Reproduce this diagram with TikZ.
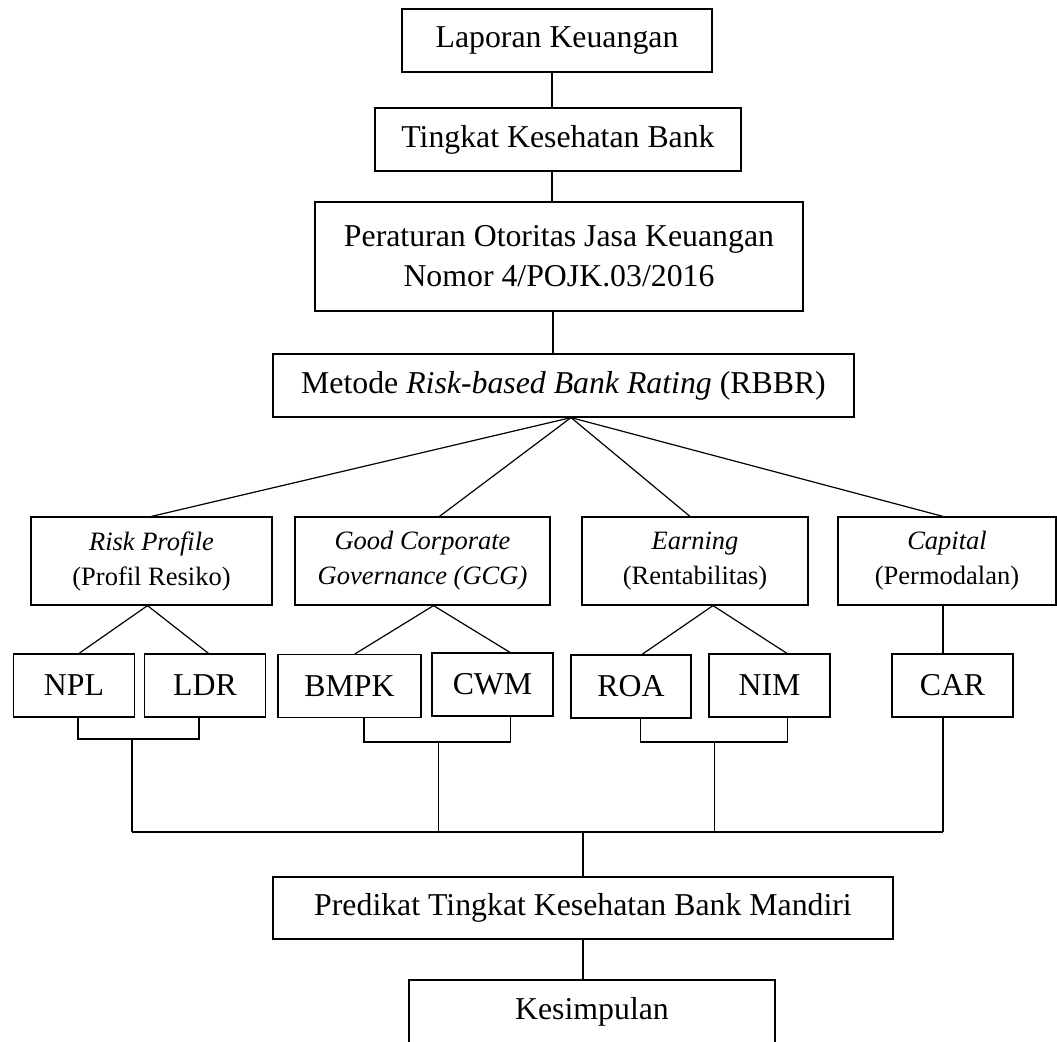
\documentclass[tikz,border=0pt]{standalone}
\usepackage{fontspec}
\setmainfont{Liberation Serif}
\begin{document}
\begin{tikzpicture}[x=1pt, y=-1pt, line width=1.2pt,
    box/.style = {draw, inner sep=0pt, align=center, font=\fontsize{31.8}{40}\selectfont},
    pilar/.style = {box, minimum height=88pt, font=\fontsize{26.5}{35}\selectfont},
    rasio/.style = {box, minimum width=121pt, minimum height=63pt}]
  \useasboundingbox (0,0) rectangle (1057,1041);
  % top chain
  \node [box, minimum width=310pt, minimum height=63pt] (lap) at (557,40.5) {Laporan Keuangan};
  \node [box, minimum width=366pt, minimum height=63pt] (tkb) at (558,139.5) {Tingkat Kesehatan Bank};
  \node [box, line width=2pt, minimum width=488pt, minimum height=109pt] (pojk) at (559,256.5)
    {Peraturan Otoritas Jasa Keuangan\\Nomor 4/POJK.03/2016};
  \node [box, minimum width=581pt, minimum height=63pt] (rbbr) at (563.5,385.5)
    {Metode \textit{Risk-based Bank Rating} (RBBR)};
  \draw ([xshift=-5]lap.south) -- ([xshift=-5]lap.south |- tkb.north);
  \draw ([xshift=-6]tkb.south) -- ([xshift=-6]tkb.south |- pojk.north);
  \draw ([xshift=-6]pojk.south) -- ([xshift=-6]pojk.south |- rbbr.north);
  % four aspects
  \node [pilar, minimum width=241pt] (rp) at (151.5,561) {\textit{Risk Profile}\\(Profil Resiko)};
  \node [pilar, minimum width=255pt] (gcg) at (422.5,561) {\textit{Good Corporate}\\\textit{Governance (GCG)}};
  \node [pilar, minimum width=226pt] (earn) at (695,561) {\textit{Earning}\\(Rentabilitas)};
  \node [pilar, minimum width=218pt] (cap) at (947,561) {\textit{Capital}\\(Permodalan)};
  \coordinate (top) at ([xshift=7.5]rbbr.south);
  \draw (rp.north) -- (top);
  \draw ([xshift=17]gcg.north) -- (top);
  \draw ([xshift=-5]earn.north) -- (top);
  \draw ([xshift=-4]cap.north) -- (top);
  % ratios
  \node [rasio] (npl) at (74,685.5) {NPL};
  \node [rasio] (ldr) at (205,685.5) {LDR};
  \node [rasio, minimum width=143pt] (bmpk) at (349.5,686) {BMPK};
  \node [rasio] (cwm) at (492.5,684.5) {CWM};
  \node [rasio, minimum width=120pt] (roa) at (631,686.5) {ROA};
  \node [rasio] (nim) at (769.5,685.5) {NIM};
  \node [rasio] (car) at (952.5,685.5) {CAR};
  \draw ([xshift=5]npl.north) -- ([xshift=-4]rp.south) -- ([xshift=3.5]ldr.north);
  \draw ([xshift=5.5]bmpk.north) -- ([xshift=11]gcg.south) -- ([xshift=17.5]cwm.north);
  \draw ([xshift=11]roa.north) -- ([xshift=18]earn.south) -- ([xshift=17.5]nim.north);
  \draw ([xshift=-4]cap.south) -- ([xshift=-4]cap.south |- car.north);
  % joining lines
  \coordinate (jrp) at (132,739);
  \coordinate (jgcg) at (438.5,742);
  \coordinate (jearn) at (714.5,742);
  \coordinate (bus) at (583,832);
  \draw ([xshift=4]npl.south) |- (jrp) -| ([xshift=-6]ldr.south);
  \draw ([xshift=14.5]bmpk.south) |- (jgcg) -| ([xshift=18]cwm.south);
  \draw ([xshift=9.6]roa.south) |- (jearn) -| ([xshift=18]nim.south);
  \foreach \j in {jrp, jgcg, jearn}
    \draw (\j) -- (\j |- bus);
  \draw ([xshift=-9.5]car.south) -- ([xshift=-9.5]car.south |- bus);
  \draw (jrp |- bus) -- ([xshift=-9.5]car.south |- bus);
  % result
  \node [box, minimum width=620pt, minimum height=62pt] (pred) at (583,908) {Predikat Tingkat Kesehatan Bank Mandiri};
  \node [box, minimum width=366pt, minimum height=63pt] (kes) at (592,1011.5) {Kesimpulan};
  \draw (bus) -- (bus |- pred.north);
  \draw (pred.south) -- (pred.south |- kes.north);
\end{tikzpicture}
\end{document}
